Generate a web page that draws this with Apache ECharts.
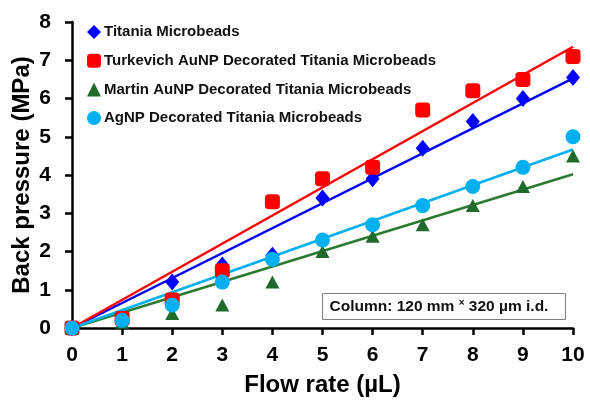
<!DOCTYPE html>
<html>
<head>
<meta charset="utf-8">
<script src="https://cdn.jsdelivr.net/npm/echarts@6/dist/echarts.min.js"></script>
<style>
  html, body { margin: 0; padding: 0; background: #fff; }
  #chart { width: 590px; height: 402px; }
</style>
</head>
<body>
<div id="chart"></div>
<script>
// flow rate (µL)
var flowRates = [0, 1, 2, 3, 4, 5, 6, 7, 8, 9, 10];
// back pressure (MPa)
var titania   = [0, 0.2, 1.2, 1.65, 1.9, 3.4, 3.9, 4.7, 5.4, 6.0, 6.55];
var turkevich = [0, 0.25, 0.73, 1.5, 3.3, 3.9, 4.2, 5.7, 6.2, 6.5, 7.1];
var martin    = [0, 0.15, 0.38, 0.6, 1.2, 2.0, 2.4, 2.7, 3.2, 3.7, 4.5];
var agnp      = [0, 0.2, 0.6, 1.2, 1.8, 2.3, 2.7, 3.2, 3.7, 4.2, 5.0];

var names = [
  'Titania Microbeads',
  'Turkevich AuNP Decorated Titania Microbeads',
  'Martin AuNP Decorated Titania Microbeads',
  'AgNP Decorated Titania Microbeads'
];
var values = [titania, turkevich, martin, agnp];
var colors = ['#0000ff', '#ff0000', '#1f6b2b', '#00b0f0'];
var lineColors = ['#0000ff', '#ff0000', '#2a7a30', '#00b0f0'];
var symbols = ['diamond', 'roundRect', 'triangle', 'circle'];
var symbolSizes = [[14, 17], 15, [14, 13], 15];

var font = 'Liberation Sans, Arial, sans-serif';

// linear fit through the origin (trend line)
function fitEnd(ys) {
  var sxy = 0, sxx = 0;
  for (var i = 0; i < flowRates.length; i++) {
    sxy += flowRates[i] * ys[i];
    sxx += flowRates[i] * flowRates[i];
  }
  var k = sxy / sxx;
  var xEnd = flowRates[flowRates.length - 1];
  return [[0, 0], [xEnd, k * xEnd]];
}

var series = [];
values.forEach(function (ys, i) {
  series.push({
    type: 'line',
    data: fitEnd(ys),
    showSymbol: false,
    silent: true,
    lineStyle: { color: lineColors[i], width: 2.5 },
    z: 2
  });
});
values.forEach(function (ys, i) {
  series.push({
    name: names[i],
    type: 'scatter',
    data: flowRates.map(function (x, j) { return [x, ys[j]]; }),
    symbol: symbols[i],
    symbolSize: symbolSizes[i],
    itemStyle: { color: colors[i], opacity: 1 },
    z: 3
  });
});

var axisLine = { lineStyle: { color: '#000', width: 2.5 } };
var axisTick = { inside: false, length: 7, lineStyle: { color: '#000', width: 2.5 } };

var chart = echarts.init(document.getElementById('chart'));
chart.setOption({
  backgroundColor: '#fff',
  animation: false,
  grid: { left: 72, right: 17, top: 22, bottom: 74, containLabel: false, outerBoundsMode: 'none' },
  legend: {
    data: names.map(function (n, i) { return { name: n, icon: symbols[i] }; }),
    orient: 'vertical',
    left: 82,
    top: 19,
    itemWidth: 14,
    itemHeight: 14,
    itemGap: 12.7,
    textStyle: { fontFamily: font, fontWeight: 'bold', fontSize: 15, color: '#111', lineHeight: 16, padding: [0, 0, 0, -2] }
  },
  xAxis: {
    type: 'value',
    min: 0, max: 10, interval: 1,
    name: 'Flow rate (µL)',
    nameLocation: 'middle',
    nameGap: 45,
    nameMoveOverlap: false,
    nameTextStyle: { fontFamily: font, fontWeight: 'bold', fontSize: 24, color: '#000' },
    axisLine: axisLine,
    axisTick: axisTick,
    splitLine: { show: false },
    axisLabel: { fontFamily: font, fontWeight: 'bold', fontSize: 21, color: '#000', margin: 17 }
  },
  yAxis: {
    type: 'value',
    min: 0, max: 8, interval: 1,
    name: 'Back pressure (MPa)',
    nameLocation: 'middle',
    nameGap: 38,
    nameMoveOverlap: false,
    nameTextStyle: { fontFamily: font, fontWeight: 'bold', fontSize: 24, color: '#000' },
    axisLine: axisLine,
    axisTick: axisTick,
    splitLine: { show: false },
    axisLabel: { fontFamily: font, fontWeight: 'bold', fontSize: 21, color: '#000', margin: 21 }
  },
  graphic: [{
    type: 'group',
    left: 322,
    top: 293,
    children: [{
      type: 'rect',
      shape: { x: 0, y: 0, width: 243, height: 26 },
      style: { fill: '#fff', stroke: '#808080', lineWidth: 1 }
    }, {
      type: 'text',
      x: 7,
      y: 13,
      style: {
        text: 'Column: 120 mm {s|×} 320 µm i.d.',
        fontFamily: font,
        fontWeight: 'bold',
        fontSize: 15.5,
        fill: '#111',
        verticalAlign: 'middle',
        rich: { s: { fontFamily: font, fontSize: 10, fontWeight: 'bold', fill: '#111', verticalAlign: 'top', padding: [0, 0, 4, 0] } }
      }
    }]
  }],
  series: series
});
</script>
</body>
</html>
